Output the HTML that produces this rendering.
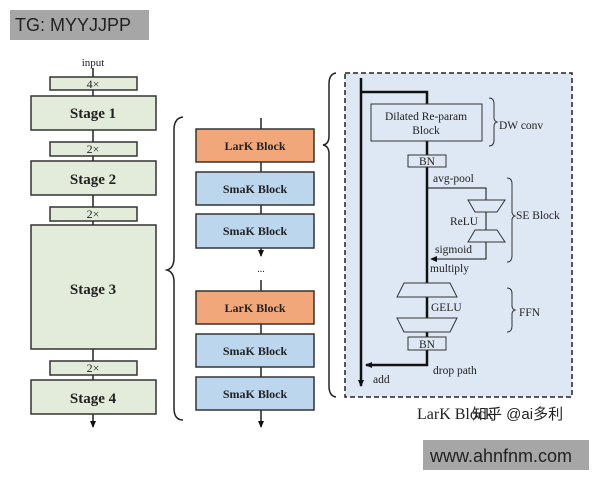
<!DOCTYPE html>
<html><head><meta charset="utf-8"><style>
html,body{margin:0;padding:0;background:#fff;width:600px;height:480px;overflow:hidden}
svg text{font-family:"Liberation Serif",serif;fill:#222}
</style></head><body>
<svg width="600" height="480" viewBox="0 0 600 480" xmlns="http://www.w3.org/2000/svg">
<defs><marker id="ah" markerWidth="8" markerHeight="8" refX="6" refY="4" orient="auto" markerUnits="userSpaceOnUse"><path d="M0,1 L7,4 L0,7 Z" fill="#111"/></marker></defs>
<rect x="10" y="10" width="139" height="30" fill="#a6a6a6"/>
<text x="15" y="31" font-size="18" style="font-family:'Liberation Sans',sans-serif" fill="#fff">TG: MYYJJPP</text>

<!-- left column -->
<g stroke="#222" stroke-width="1.5">
<line x1="93" y1="68" x2="93" y2="427" marker-end="url(#ah)"/>
</g>
<text x="93" y="66" font-size="11" text-anchor="middle">input</text>
<g fill="#e3ecdb" stroke="#333" stroke-width="1.5">
<rect x="50" y="77" width="87" height="13"/>
<rect x="31" y="96" width="125" height="34"/>
<rect x="50" y="142" width="87" height="14"/>
<rect x="31" y="161" width="125" height="34"/>
<rect x="50" y="207" width="87" height="14"/>
<rect x="31" y="225" width="125" height="124"/>
<rect x="50" y="361" width="87" height="14"/>
<rect x="31" y="380" width="125" height="34"/>
</g>
<g font-size="12" text-anchor="middle"><text x="93" y="88">4×</text><text x="93" y="153">2×</text><text x="93" y="218">2×</text><text x="93" y="372">2×</text></g>
<g font-size="15" font-weight="bold" text-anchor="middle"><text x="93" y="118">Stage 1</text><text x="93" y="184">Stage 2</text><text x="93" y="294">Stage 3</text><text x="93" y="403">Stage 4</text></g>

<!-- left brace -->
<path d="M183,117 Q174,118 174,130 L174,258 Q174,268 167,270 Q174,272 174,282 L174,408 Q174,420 183,420" fill="none" stroke="#222" stroke-width="1.5"/>

<!-- middle column -->
<g stroke="#222" stroke-width="1.5">
<line x1="261" y1="118" x2="261" y2="256" marker-end="url(#ah)"/>
<line x1="261" y1="280" x2="261" y2="427" marker-end="url(#ah)"/>
</g>
<text x="261" y="272" font-size="10" text-anchor="middle" fill="#666">...</text>
<g stroke="#333" stroke-width="1.5">
<rect x="196" y="129" width="118" height="33" fill="#f2a77a"/>
<rect x="196" y="172" width="118" height="33" fill="#bcd6ee"/>
<rect x="196" y="214" width="118" height="34" fill="#bcd6ee"/>
<rect x="196" y="291" width="118" height="33" fill="#f2a77a"/>
<rect x="196" y="334" width="118" height="33" fill="#bcd6ee"/>
<rect x="196" y="377" width="118" height="33" fill="#bcd6ee"/>
</g>
<g font-size="12" font-weight="bold" text-anchor="middle">
<text x="255" y="150">LarK Block</text><text x="255" y="193">SmaK Block</text><text x="255" y="235">SmaK Block</text>
<text x="255" y="312">LarK Block</text><text x="255" y="355">SmaK Block</text><text x="255" y="398">SmaK Block</text></g>

<!-- right brace -->
<path d="M336,73 Q329,74 329,84 L329,136 Q329,144 323,145 Q329,146 329,154 L329,386 Q329,396 336,397" fill="none" stroke="#222" stroke-width="1.5"/>

<!-- dashed box -->
<rect x="345" y="73" width="227" height="324" fill="#dde8f4" stroke="#222" stroke-width="1.5" stroke-dasharray="5,3"/>

<g stroke="#111" fill="none">
<line x1="361" y1="78" x2="361" y2="386" stroke-width="2.5" marker-end="url(#ah)"/>
<polyline points="361,92 427,92 427,365 366,365" stroke-width="2.5" marker-end="url(#ah)"/>
<polyline points="427,188 486,188 486,200" stroke-width="1"/>
<line x1="486" y1="212" x2="486" y2="230" stroke-width="1"/>
<polyline points="486,242 486,259 431,259" stroke-width="1" marker-end="url(#ah)"/>
</g>
<g fill="#dde8f4" stroke="#333" stroke-width="1">
<rect x="371" y="104" width="111" height="37"/>
<rect x="408" y="155" width="38" height="12"/>
<polygon points="468,200 505,200 497,212 475,212"/>
<polygon points="475,230 497,230 505,242 468,242"/>
<polygon points="404,283 450,283 457,297 397,297"/>
<polygon points="397,318 457,318 450,332 404,332"/>
<rect x="408" y="337" width="38" height="13"/>
</g>
<g font-size="11.5">
<text x="426" y="120" text-anchor="middle">Dilated Re-param</text>
<text x="426" y="134" text-anchor="middle">Block</text>
<text x="427" y="165" text-anchor="middle">BN</text>
<text x="427" y="348" text-anchor="middle">BN</text>
<text x="433" y="182">avg-pool</text>
<text x="450" y="225">ReLU</text>
<text x="435" y="253">sigmoid</text>
<text x="430" y="272">multiply</text>
<text x="431" y="311">GELU</text>
<text x="433" y="374">drop path</text>
<text x="373" y="383">add</text>
<text x="499" y="129">DW conv</text>
<text x="516" y="219">SE Block</text>
<text x="519" y="316">FFN</text>
</g>
<g fill="none" stroke="#333" stroke-width="1">
<path d="M489,98 Q494,98 494,104 L494,118 Q494,121 497,122 Q494,123 494,126 L494,140 Q494,146 489,146"/>
<path d="M507,178 Q512,178 512,184 L512,212 Q512,215 515,216 Q512,217 512,220 L512,256 Q512,262 507,262"/>
<path d="M507,288 Q512,288 512,294 L512,306 Q512,309 515,310 Q512,311 512,314 L512,326 Q512,332 507,332"/>
</g>
<text x="417" y="419" font-size="16">LarK Block</text>
<text x="472" y="419" font-size="15" style="font-family:'Liberation Sans','Noto Sans CJK SC',sans-serif" fill="#c8c8c8">知乎 @ai多利</text>
<rect x="423" y="440" width="166" height="30" fill="#a6a6a6"/>
<text x="430" y="462" font-size="18" style="font-family:'Liberation Sans',sans-serif" fill="#fff">www.ahnfnm.com</text>
</svg>
</body></html>
